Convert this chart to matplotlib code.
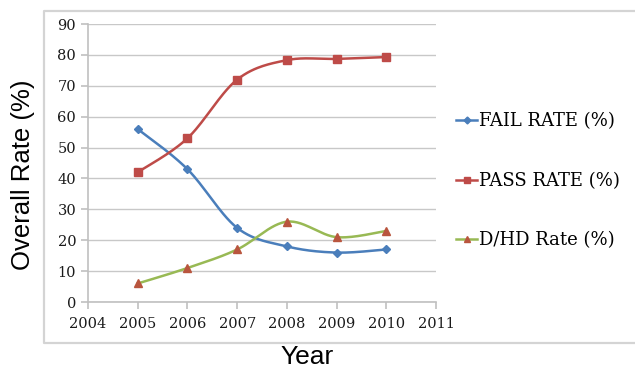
import numpy as np
import matplotlib
matplotlib.use("Agg")
import matplotlib.pyplot as plt
from matplotlib.lines import Line2D

years = [2005, 2006, 2007, 2008, 2009, 2010]
fail_rate = [56, 43, 24, 18, 16, 17]
pass_rate = [42, 53, 72, 78.3, 78.7, 79.3]
dhd_rate = [6, 11, 17, 26, 21, 23]
series_names = ["FAIL RATE (%)", "PASS RATE (%)", "D/HD Rate (%)"]
x_ticks = list(range(2004, 2012))
y_ticks = list(range(0, 100, 10))


def smooth(xs, ys, xscale=16.0, n=30):
    # Excel-like smoothed line (cubic Bezier, Catmull-Rom control points)
    px = np.array(xs, float) * xscale
    py = np.array(ys, float)
    P = np.column_stack([px, py])
    out = []
    for i in range(len(P) - 1):
        p0 = P[i - 1] if i > 0 else P[i]
        p1 = P[i]
        p2 = P[i + 1]
        p3 = P[i + 2] if i + 2 < len(P) else P[i + 1]
        c1 = p1 + (p2 - p0) / 6.0
        c2 = p2 - (p3 - p1) / 6.0
        t = np.linspace(0, 1, n)[:, None]
        seg = ((1 - t) ** 3) * p1 + 3 * ((1 - t) ** 2) * t * c1 + 3 * (1 - t) * t ** 2 * c2 + t ** 3 * p2
        out.append(seg if i == 0 else seg[1:])
    S = np.vstack(out)
    return S[:, 0] / xscale, S[:, 1]


fig = plt.figure(figsize=(6.35, 3.7), dpi=100)
bx0, by0, by1 = 44 / 635, 1 - 343 / 370, 1 - 11 / 370
fig.add_artist(Line2D([1.0, bx0, bx0, 1.0], [by1, by1, by0, by0],
                      transform=fig.transFigure, color="#d4d4d4", lw=1.6, zorder=0))

ax = fig.add_axes([88 / 635, 1 - 302 / 370, (436 - 88) / 635, (302 - 24) / 370])

blue = "#4a7ebb"
red = "#be4b48"
green = "#98b954"

for ys, col, mk, mfc, ms in [(fail_rate, blue, "D", blue, 4),
                             (pass_rate, red, "s", red, 6),
                             (dhd_rate, green, "^", "#b9553e", 6)]:
    sx, sy = smooth(years, ys)
    ax.plot(sx, sy, color=col, lw=1.8, zorder=3)
    ax.plot(years, ys, ls="none", marker=mk, markersize=ms, markerfacecolor=mfc,
            markeredgecolor=mfc, zorder=4)

ax.set_xlim(2004, 2011)
ax.set_ylim(0, 90)
ax.set_xticks(x_ticks)
ax.set_yticks(y_ticks)
ax.yaxis.grid(True, color="#c8c8c8", lw=1.0)
ax.set_axisbelow(True)
for s in ["top", "right"]:
    ax.spines[s].set_visible(False)
for s in ["left", "bottom"]:
    ax.spines[s].set_color("#c0c0c0")
    ax.spines[s].set_linewidth(1.2)
ax.tick_params(axis="both", colors="#c0c0c0", length=5, width=1.2, labelcolor="#1a1a1a",
               labelsize=10.5)
for lab in ax.get_xticklabels() + ax.get_yticklabels():
    lab.set_family("DejaVu Serif")
ax.tick_params(axis="x", pad=6)

fig.text(307 / 635, 1 - 357 / 370, "Year", ha="center", va="center",
         fontsize=19, family="Liberation Sans")
fig.text(23 / 635, 1 - 175 / 370, "Overall Rate (%)", ha="center", va="center",
         rotation=90, fontsize=18.5, family="Liberation Sans")

handles = [Line2D([], [], color=blue, lw=1.8, marker="D", markersize=3.5),
           Line2D([], [], color=red, lw=1.8, marker="s", markersize=5),
           Line2D([], [], color=green, lw=1.8, marker="^", markersize=5,
                  markerfacecolor="#b9553e", markeredgecolor="#b9553e")]
leg = fig.legend(handles, series_names, loc="center left",
                 bbox_to_anchor=(440 / 635, 1 - 181 / 370), frameon=False,
                 handlelength=1.15, handletextpad=0.1, labelspacing=2.3,
                 prop={"family": "DejaVu Serif", "size": 13})

fig.savefig("out.png", dpi=100)
